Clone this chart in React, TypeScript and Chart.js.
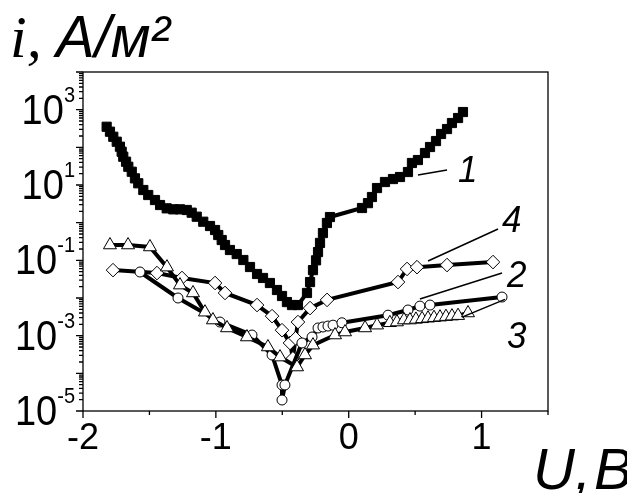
import React, { useEffect, useRef } from "react";
import { Chart, registerables } from "chart.js";
Chart.register(...registerables);

// ---- data (U, V ; i, A/m2) ----
const s1X = [-1.822, -1.797, -1.772, -1.746, -1.722, -1.709, -1.697, -1.676, -1.659, -1.633, -1.609, -1.584, -1.546, -1.509, -1.458, -1.42, -1.37, -1.32, -1.27, -1.219, -1.182, -1.144, -1.095, -1.044, -1.006, -0.982, -0.956, -0.931, -0.894, -0.843, -0.793, -0.743, -0.69, -0.645, -0.593, -0.54, -0.502, -0.465, -0.427, -0.382, -0.314, -0.291, -0.269, -0.246, -0.231, -0.216, -0.194, -0.164, -0.141, 0.1, 0.145, 0.175, 0.213, 0.273, 0.333, 0.386, 0.446, 0.476, 0.521, 0.574, 0.612, 0.657, 0.695, 0.74, 0.777, 0.823, 0.86];
const s1Y = [352, 260, 191, 141, 104, 76.5, 56.4, 41.5, 30.5, 22.5, 15, 11.1, 7.36, 5.42, 3.99, 2.94, 2.4, 2.26, 2.26, 2.17, 1.84, 1.44, 1.06, 0.815, 0.638, 0.47, 0.346, 0.255, 0.188, 0.147, 0.102, 0.0665, 0.0434, 0.034, 0.025, 0.0163, 0.0113, 0.0078, 0.0065, 0.0065, 0.0136, 0.0265, 0.055, 0.1, 0.166, 0.29, 0.53, 0.98, 1.41, 2.45, 3.3, 4.8, 8.3, 12, 14.4, 16.3, 22.1, 38.4, 46, 70.6, 102, 147, 226, 306, 442, 600, 866];

const s4X = [-1.774, -1.443, -1.255, -1.006, -0.931, -0.69, -0.577, -0.502, -0.442, -0.42, -0.4, -0.382, -0.291, -0.163, 0.371, 0.439, 0.514, 0.74, 1.086];
const s4Y = [0.055, 0.046, 0.034, 0.025, 0.0136, 0.0065, 0.0033, 0.0014, 0.00064, 0.00025, 0.00085, 0.0023, 0.0054, 0.0089, 0.0265, 0.059, 0.066, 0.075, 0.09];

const s2X = [-1.571, -1.285, -0.969, -0.728, -0.577, -0.502, -0.502, -0.48, -0.352, -0.276, -0.231, -0.194, -0.156, -0.118, -0.051, 0.296, 0.446, 0.536, 0.612, 1.154];
const s2Y = [0.049, 0.01, 0.0023, 0.00104, 0.000307, 0.000049, 0.0000196, 0.000049, 0.00064, 0.00092, 0.0016, 0.0017, 0.0018, 0.0019, 0.0022, 0.0035, 0.0048, 0.0061, 0.0065, 0.0106];

const s3X = [-1.797, -1.661, -1.496, -1.368, -1.27, -1.172, -1.082, -1.022, -0.916, -0.766, -0.608, -0.517, -0.389, -0.329, -0.269, -0.103, -0.028, 0.123, 0.213, 0.31, 0.363, 0.416, 0.461, 0.506, 0.552, 0.597, 0.642, 0.687, 0.732, 0.777, 0.823, 0.898];
const s3Y = [0.255, 0.255, 0.226, 0.066, 0.022, 0.0136, 0.0042, 0.0026, 0.0016, 0.00092, 0.0005, 0.00027, 0.000147, 0.000307, 0.00056, 0.00104, 0.00125, 0.0016, 0.0019, 0.0022, 0.0023, 0.0026, 0.0026, 0.0027, 0.0028, 0.0029, 0.003, 0.0031, 0.0032, 0.0033, 0.0034, 0.004];

// axis
const xMin = -2, xMax = 1.5;
const xMajor = [-2, -1, 0, 1];
const xMinor = [-1.5, -0.5, 0.5, 1.5];
const xLabels = ["-2", "-1", "0", "1"];
const yMinExp = -5, yMaxExp = 4;
const yLabelExps = [3, 1, -1, -3, -5];

// curve labels and leader lines (data coordinates)
const curveLabels = ["1", "4", "2", "3"];
const labelX = [0.822, 1.154, 1.191, 1.191];
const labelY = [12, 0.565, 0.0196, 0.00047];
const leadX0 = [0.521, 0.597, 0.536, 0.853];
const leadY0 = [18.4, 0.096, 0.0094, 0.0031];
const leadX1 = [0.74, 1.124, 1.154, 1.176];
const leadY1 = [25, 0.68, 0.046, 0.0092];

const SANS = "'Liberation Sans', Arial, sans-serif";
const SERIF = "'Liberation Serif', 'Times New Roman', serif";

function sText(ctx: CanvasRenderingContext2D, text: string, x: number, y: number, font: string, sy: number, align: CanvasTextAlign = "left") {
  ctx.save();
  ctx.translate(x, y);
  ctx.scale(1, sy);
  ctx.font = font;
  ctx.textAlign = align;
  ctx.textBaseline = "alphabetic";
  ctx.fillStyle = "#000";
  ctx.fillText(text, 0, 0);
  ctx.restore();
}

const decor = {
  id: "decor",
  afterDraw(chart: any) {
    const { ctx, chartArea: a, scales } = chart;
    const x = scales.x, y = scales.y;
    ctx.save();
    ctx.strokeStyle = "#000";
    ctx.lineWidth = 1.3;
    ctx.strokeRect(a.left, a.top, a.right - a.left, a.bottom - a.top);
    ctx.beginPath();
    // y ticks
    for (let e = yMinExp; e <= yMaxExp; e++) {
      const py = y.getPixelForValue(Math.pow(10, e));
      ctx.moveTo(a.left - 7, py); ctx.lineTo(a.left, py);
      if (e < yMaxExp) {
        for (let m = 2; m <= 9; m++) {
          const p2 = y.getPixelForValue(m * Math.pow(10, e));
          ctx.moveTo(a.left - 4, p2); ctx.lineTo(a.left, p2);
        }
      }
    }
    for (const v of xMajor) {
      const px = x.getPixelForValue(v);
      ctx.moveTo(px, a.bottom); ctx.lineTo(px, a.bottom + 7);
    }
    for (const v of xMinor) {
      const px = x.getPixelForValue(v);
      ctx.moveTo(px, a.bottom); ctx.lineTo(px, a.bottom + 4);
    }
    ctx.stroke();

    // y labels
    const R = 75;
    for (const e of yLabelExps) {
      const py = y.getPixelForValue(Math.pow(10, e));
      const sup = String(e);
      ctx.font = `20px ${SANS}`;
      const sw = ctx.measureText(sup).width;
      sText(ctx, sup, R - sw, py - 8, `20px ${SANS}`, 1.14);
      sText(ctx, "10", R - sw, py + 14, `38px ${SANS}`, 1.12, "right");
    }
    // x labels
    xMajor.forEach((v, i) => {
      const px = x.getPixelForValue(v);
      sText(ctx, xLabels[i], px, a.bottom + 38, `36px ${SANS}`, 1.0, "center");
    });

    // leaders and curve labels
    ctx.lineWidth = 1.5;
    ctx.beginPath();
    for (let i = 0; i < curveLabels.length; i++) {
      ctx.moveTo(x.getPixelForValue(leadX0[i]), y.getPixelForValue(leadY0[i]));
      ctx.lineTo(x.getPixelForValue(leadX1[i]), y.getPixelForValue(leadY1[i]));
    }
    ctx.stroke();
    for (let i = 0; i < curveLabels.length; i++) {
      sText(ctx, curveLabels[i], x.getPixelForValue(labelX[i]), y.getPixelForValue(labelY[i]), `italic 35px ${SANS}`, 1.08);
    }

    // axis titles
    sText(ctx, "i,", 10, 57, `italic 60px ${SERIF}`, 1.0);
    sText(ctx, "А/м²", 56, 57, `italic 58px ${SANS}`, 1.02);
    sText(ctx, "U,", 533, 489, `italic 58px ${SANS}`, 1.0);
    sText(ctx, "В", 594, 489, `italic 58px ${SANS}`, 1.0);
    ctx.restore();
  },
};

function mk(xs: number[], ys: number[]) {
  return xs.map((v, i) => ({ x: v, y: ys[i] }));
}

export default function App() {
  const ref = useRef<HTMLCanvasElement>(null);
  useEffect(() => {
    if (!ref.current) return;
    const common = { borderColor: "#000", borderWidth: 4, pointBorderColor: "#000", pointBorderWidth: 1, tension: 0, showLine: true, clip: false as any };
    const chart = new Chart(ref.current, {
      type: "line",
      data: {
        datasets: [
          { ...common, data: mk(s3X, s3Y), pointStyle: "triangle", pointRadius: 7.5, pointBackgroundColor: "#fff" },
          { ...common, data: mk(s2X, s2Y), pointStyle: "circle", pointRadius: 5, pointBackgroundColor: "#fff" },
          { ...common, data: mk(s4X, s4Y), pointStyle: "rectRot", pointRadius: 6.8, pointBackgroundColor: "#fff" },
          { ...common, data: mk(s1X, s1Y), pointStyle: "rect", pointRadius: 6.5, pointBackgroundColor: "#000" },
        ],
      },
      options: {
        responsive: false,
        animation: false,
        devicePixelRatio: 1,
        layout: { padding: { left: 83, top: 72, right: 79, bottom: 82 } },
        plugins: { legend: { display: false }, tooltip: { enabled: false } },
        events: [],
        scales: {
          x: { type: "linear", min: xMin, max: xMax, display: false },
          y: { type: "logarithmic", min: Math.pow(10, yMinExp), max: Math.pow(10, yMaxExp), display: false },
        },
      },
      plugins: [decor],
    });
    return () => chart.destroy();
  }, []);
  return (
    <div style={{ position: "fixed", left: 0, top: 0, width: 627, height: 493, background: "#fff" }}>
      <canvas ref={ref} width={627} height={493} />
    </div>
  );
}
